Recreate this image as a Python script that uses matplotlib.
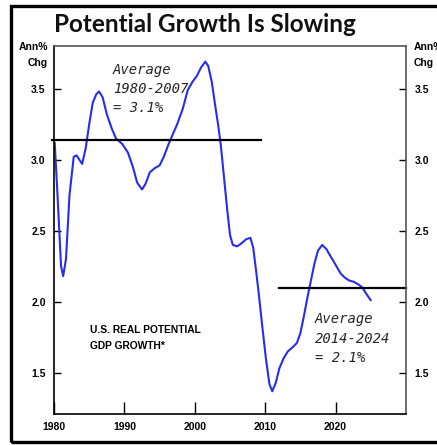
import matplotlib
matplotlib.use("Agg")
import matplotlib.pyplot as plt
from matplotlib.patches import Rectangle
from matplotlib.font_manager import FontProperties

# U.S. real potential GDP growth, annualized % change
years = [1980.1, 1980.5, 1981.0, 1981.3, 1981.7, 1982.2, 1982.8, 1983.2, 1983.6, 1984.0,
         1984.5, 1985.0, 1985.5, 1986.0, 1986.4, 1986.9, 1987.5, 1988.2, 1988.8, 1989.7,
         1990.5, 1991.2, 1991.8, 1992.5, 1993.0, 1993.6, 1994.3, 1995.0, 1995.6, 1996.2,
         1996.8, 1997.5, 1998.3, 1999.0, 1999.7, 2000.3, 2000.9, 2001.5, 2001.9, 2002.4,
         2002.9, 2003.3, 2003.7, 2004.1, 2004.6, 2005.0, 2005.4, 2006.0, 2006.6, 2007.3,
         2007.9, 2008.3, 2008.7, 2009.1, 2009.6, 2010.1, 2010.6, 2011.0, 2011.5, 2012.0,
         2012.6, 2013.2, 2013.9, 2014.5, 2015.0, 2015.5, 2016.0, 2016.5, 2017.0, 2017.5,
         2018.1, 2018.7, 2019.4, 2020.0, 2020.7, 2021.3, 2021.9, 2022.6, 2023.3, 2023.8,
         2024.3, 2025.0]
growth = [3.12, 2.75, 2.25, 2.18, 2.30, 2.75, 3.02, 3.03, 3.00, 2.97,
          3.08, 3.25, 3.40, 3.46, 3.48, 3.44, 3.32, 3.22, 3.15, 3.11,
          3.05, 2.95, 2.84, 2.79, 2.83, 2.91, 2.94, 2.96, 3.02, 3.10,
          3.17, 3.25, 3.36, 3.49, 3.55, 3.59, 3.65, 3.69, 3.66, 3.55,
          3.38, 3.25, 3.10, 2.90, 2.65, 2.47, 2.40, 2.39, 2.41, 2.44,
          2.45, 2.38, 2.22, 2.05, 1.82, 1.60, 1.42, 1.37, 1.43, 1.53,
          1.60, 1.65, 1.68, 1.71, 1.78, 1.90, 2.03, 2.15, 2.27, 2.36,
          2.40, 2.37, 2.31, 2.26, 2.20, 2.17, 2.15, 2.14, 2.12, 2.10,
          2.06, 2.01]

# Period averages: span of the reference line and its value
avg_early_span = [1979.7, 2009.4]
avg_early = 3.14
avg_late_span = [2011.9, 2030.0]
avg_late = 2.1

x_ticks = [1980, 1990, 2000, 2010, 2020]
y_ticks = [1.5, 2.0, 2.5, 3.0, 3.5]

W, H = 437, 445
fig = plt.figure(figsize=(W / 100, H / 100), dpi=100)
fig.patch.set_facecolor("white")

# outer frame
fig.patches.append(Rectangle((10.5 / W, 3.5 / H), 1.2, (H - 9.5) / H,
                             transform=fig.transFigure, fill=False,
                             edgecolor="black", linewidth=2.4))

ax = fig.add_axes([54 / W, 1 - 414 / H, (406 - 54) / W, (414 - 46) / H])
ax.set_xlim(1980, 2030)
ax.set_ylim(1.21, 3.80)

ax.plot(years, growth, color="#2b2bf0", linewidth=1.5, solid_capstyle="round")
ax.plot(avg_early_span, [avg_early, avg_early], color="black", linewidth=1.6, clip_on=False)
ax.plot(avg_late_span, [avg_late, avg_late], color="black", linewidth=1.6, clip_on=False)

tick_fp = FontProperties(family="Liberation Sans", weight="bold", size=7.5)
ax.set_xticks(x_ticks)
ax.set_xticklabels([str(t) for t in x_ticks])
ax.set_yticks(y_ticks)
ax.set_yticklabels([f"{t:.1f}" for t in y_ticks])
ax.tick_params(axis="x", direction="in", length=9, width=1, pad=6, colors="black")
ax.tick_params(axis="y", direction="in", length=5, width=1, pad=6,
               left=True, right=True, labelleft=True, labelright=True, colors="black")
for t in ax.xaxis.get_major_ticks():
    t.label1.set_fontproperties(tick_fp)
for t in ax.yaxis.get_major_ticks():
    t.label1.set_fontproperties(tick_fp)
    t.label2.set_fontproperties(tick_fp)

for side in ["left", "bottom"]:
    ax.spines[side].set_color("black")
    ax.spines[side].set_linewidth(1.2)
for side in ["top", "right"]:
    ax.spines[side].set_color("#555555")
    ax.spines[side].set_linewidth(1.2)

# title
fig.text(54 / W, 1 - 24 / H, "Potential Growth Is Slowing", family="Lato",
         weight="bold", size=17.5, ha="left", va="center", color="#111111")

# unit labels
for xpos, ha in [(48 / W, "right"), (414 / W, "left")]:
    fig.text(xpos, 1 - 47 / H, "Ann%", ha=ha, va="center", fontproperties=tick_fp)
    fig.text(xpos, 1 - 63 / H, "Chg", ha=ha, va="center", fontproperties=tick_fp)

# annotations
hand = dict(family="DejaVu Sans Mono", style="italic", size=10, color="#262626")
fig.text(113 / W, 1 - 70 / H, "Average", ha="left", va="center", **hand)
fig.text(113 / W, 1 - 89 / H, "1980-2007", ha="left", va="center", **hand)
fig.text(113 / W, 1 - 108 / H, f"= {avg_early:.1f}%", ha="left", va="center", **hand)

fig.text(315 / W, 1 - 319 / H, "Average", ha="left", va="center", **hand)
fig.text(315 / W, 1 - 339 / H, "2014-2024", ha="left", va="center", **hand)
fig.text(315 / W, 1 - 358 / H, f"= {avg_late:.1f}%", ha="left", va="center", **hand)

label_fp = FontProperties(family="Liberation Sans", weight="bold", size=7.4)
fig.text(90 / W, 1 - 330 / H, "U.S. REAL POTENTIAL", ha="left", va="center", fontproperties=label_fp)
fig.text(90 / W, 1 - 346 / H, "GDP GROWTH*", ha="left", va="center", fontproperties=label_fp)

fig.savefig("out.png", dpi=100)
